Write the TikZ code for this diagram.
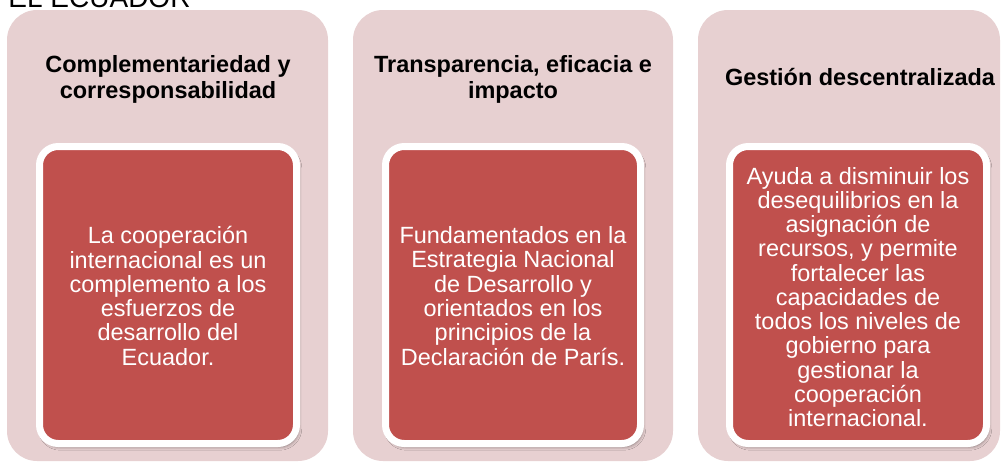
\documentclass[tikz,border=0pt]{standalone}
\usepackage{fontspec}
\setmainfont{Liberation Sans}
\usetikzlibrary{shadows.blur}
\definecolor{panelpink}{RGB}{231,208,209}
\definecolor{cardred}{RGB}{192,80,77}
\tikzset{every picture/.style={line width=0.75pt}}
\tikzset{
  panel/.style={fill=panelpink, draw=none, rounded corners=22.5pt},
  card/.style={fill=cardred, draw=white, line width=5.25pt, rounded corners=14pt,
    blur shadow={shadow xshift=1.5pt, shadow yshift=-2.5pt, shadow blur radius=2.5pt, shadow opacity=45}},
  headtext/.style={font=\fontsize{17.6}{19.5}\selectfont\bfseries, align=center, inner sep=0pt},
  bodytext/.style={font=\fontsize{17.6}{18.2}\selectfont, text=white, align=center, inner sep=0pt}
}

\begin{document}
\begin{tikzpicture}[x=0.75pt,y=0.75pt,yscale=-1,xscale=1]
	\useasboundingbox (0,0) rectangle (1004,461);
	\clip (0,0) rectangle (1004,461);

	%Rounded Rect [panels]
	\draw[panel] (7,10) rectangle (328,461);
	\draw[panel] (353,10) rectangle (673,461);
	\draw[panel] (698,10) rectangle (1000,461);

	%Rounded Rect [cards]
	\draw[card] (39.5,146.5) rectangle (296.5,443.5);
	\draw[card] (385.5,146.5) rectangle (640.5,443.5);
	\draw[card] (729.5,146.5) rectangle (986.5,443.5);

	% Text Node
	\node[anchor=base west, inner sep=0pt, font=\fontsize{21}{25}\selectfont] (ecuador) at (8,7) {EL ECUADOR};

	% Text Node
	\node[headtext] (compl) at (168,79) {Complementariedad y\\corresponsabilidad};
	% Text Node
	\node[headtext] (transp) at (513,79) {Transparencia, eficacia e\\impacto};
	% Text Node
	\node[headtext] (gestion) at (860,77) {Gestión descentralizada};

	% Text Node
	\node[bodytext] (coop) at (168,296) {La cooperación\\internacional es un\\complemento a los\\esfuerzos de\\desarrollo del\\Ecuador.};
	% Text Node
	\node[bodytext] (fund) at (513,296) {Fundamentados en la\\Estrategia Nacional\\de Desarrollo y\\orientados en los\\principios de la\\Declaración de París.};
	% Text Node
	\node[bodytext] (ayuda) at (858,297) {Ayuda a disminuir los\\desequilibrios en la\\asignación de\\recursos, y permite\\fortalecer las\\capacidades de\\todos los niveles de\\gobierno para\\gestionar la\\cooperación\\internacional.};

\end{tikzpicture}
\end{document}
